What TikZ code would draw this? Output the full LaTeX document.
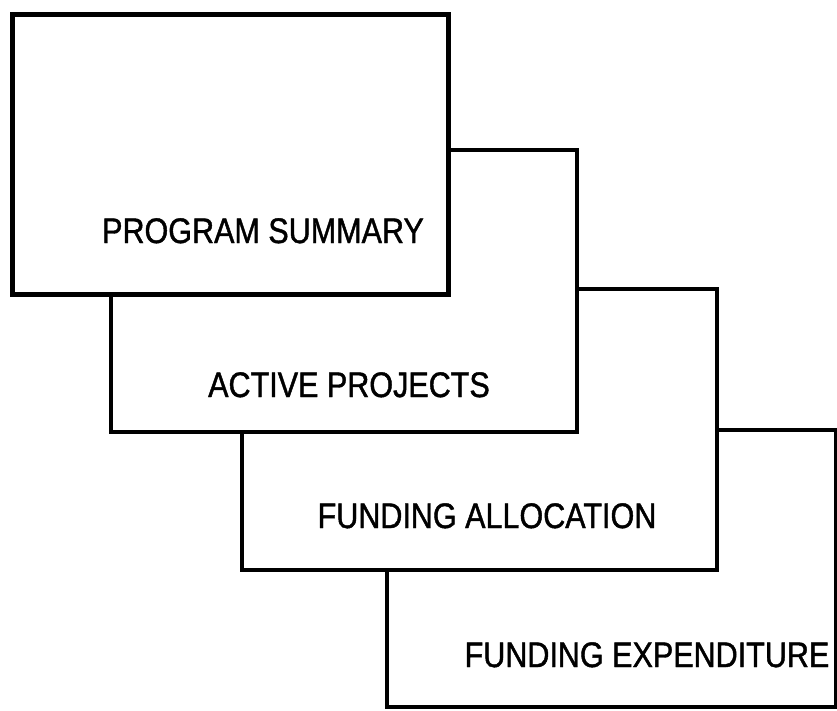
\documentclass[tikz,border=0pt]{standalone}
\usepackage{fontspec}
\setmainfont{Liberation Sans}[FakeStretch=0.86,FakeBold=1.2]
\begin{document}
\begin{tikzpicture}[x=1pt,y=-1pt,
  panel/.style={draw=black, fill=white, rectangle, anchor=north west, inner sep=0pt, outer sep=0pt, line width=3.5pt},
  toppanel/.style={panel, line width=5pt},
  caption/.style={anchor=base, inner sep=0pt, font=\fontsize{35.5}{40}\selectfont}]
\useasboundingbox[fill=white] (0,0) rectangle (837,710);
\node[panel, minimum width=449pt, minimum height=277pt] (b4) at (387,430) {};
\node[panel, minimum width=475pt, minimum height=281pt] (b3) at (242,289) {};
\node[panel, minimum width=466pt, minimum height=282pt] (b2) at (111,150) {};
\node[toppanel, minimum width=436pt, minimum height=280pt] (b1) at (12,14) {};
\node[caption] (t1) at (263,243) {PROGRAM SUMMARY};
\node[caption] (t2) at (349,397) {ACTIVE PROJECTS};
\node[caption] (t3) at (487,528) {FUNDING ALLOCATION};
\node[caption] (t4) at (647,667) {FUNDING EXPENDITURE};
\end{tikzpicture}
\end{document}
